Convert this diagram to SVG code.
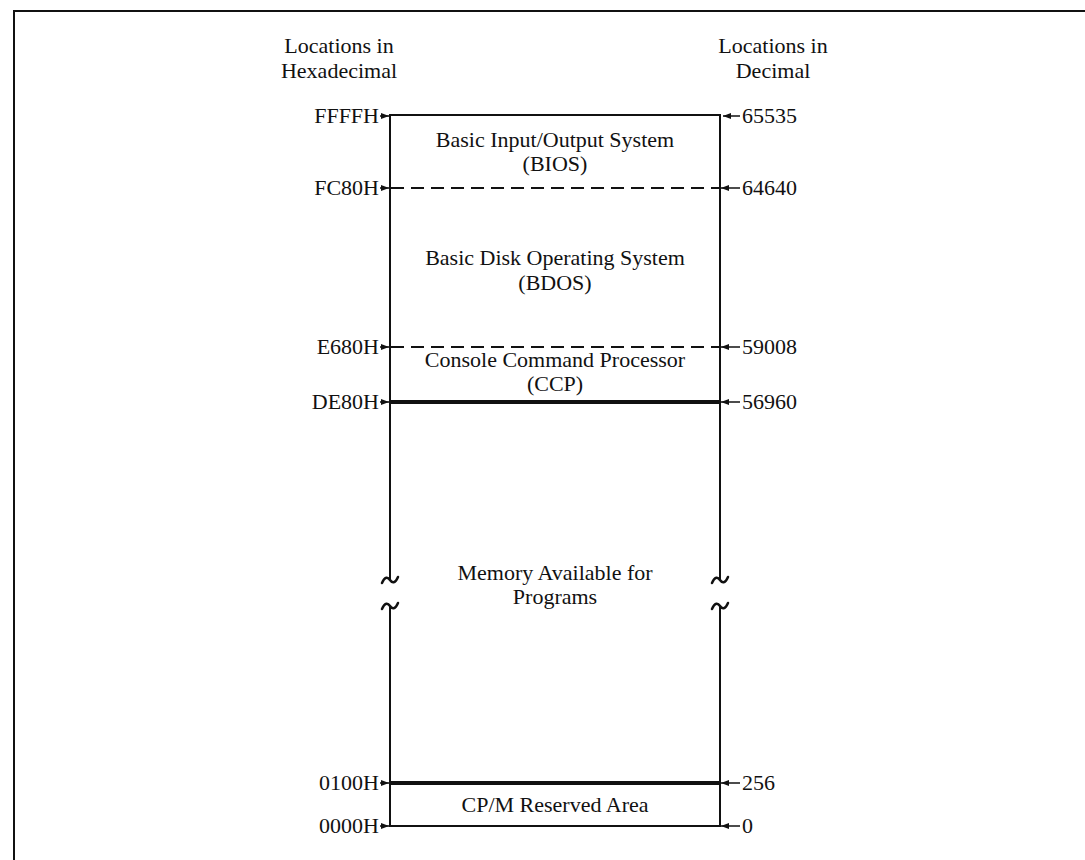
<svg xmlns="http://www.w3.org/2000/svg" width="1085" height="860" viewBox="0 0 1085 860">
<defs>
<style>
text{font-family:"Liberation Serif","Times New Roman",serif;font-size:22px;fill:#111}
.c{text-anchor:middle}
.e{text-anchor:end}
.s{text-anchor:start}
.ln{stroke:#111;stroke-width:2;fill:none}
.tl{stroke:#111;stroke-width:2.5;fill:none;stroke-linecap:round}
.dash{stroke:#111;stroke-width:2;stroke-dasharray:13 7;fill:none}
.thick{stroke:#111;stroke-width:4;fill:none}
.arr{stroke:#111;stroke-width:1.5;fill:none;marker-end:url(#ah)}
</style>
<marker id="ah" viewBox="0 0 8 6" refX="8" refY="3" markerWidth="8" markerHeight="6" markerUnits="userSpaceOnUse" orient="auto">
<path d="M0,0 L8,3 L0,6 Z" fill="#111"/>
</marker>
</defs>
<rect width="1085" height="860" fill="#fff"/>
<g id="frame">
<path class="ln" d="M14,860 V11 H1085"/>
</g>
<g id="headers">
<text class="c" x="339" y="53">Locations in</text>
<text class="c" x="339" y="78">Hexadecimal</text>
<text class="c" x="773" y="53">Locations in</text>
<text class="c" x="773" y="78">Decimal</text>
</g>
<g id="connectors">
<path class="ln" d="M390,580 V115 H720 V580"/>
<path class="ln" d="M390,606 V826 H720 V606"/>
<path class="tl" d="M382,583 C385,576 388,577 390,580 C392,583 395,584 398,577"/>
<path class="tl" d="M382,609 C385,602 388,603 390,606 C392,609 395,610 398,603"/>
<path class="tl" d="M712,583 C715,576 718,577 720,580 C722,583 725,584 728,577"/>
<path class="tl" d="M712,609 C715,602 718,603 720,606 C722,609 725,610 728,603"/>
<line class="dash" x1="391" y1="188" x2="719" y2="188"/>
<line class="dash" x1="391" y1="347" x2="719" y2="347"/>
<line class="thick" x1="390" y1="402" x2="720" y2="402"/>
<line class="thick" x1="390" y1="783" x2="720" y2="783"/>
<line class="arr" x1="380" y1="116" x2="389" y2="116"/>
<line class="arr" x1="380" y1="188" x2="389" y2="188"/>
<line class="arr" x1="380" y1="347" x2="389" y2="347"/>
<line class="arr" x1="380" y1="402" x2="389" y2="402"/>
<line class="arr" x1="380" y1="783" x2="389" y2="783"/>
<line class="arr" x1="380" y1="826" x2="389" y2="826"/>
<line class="arr" x1="740" y1="116" x2="723" y2="116"/>
<line class="arr" x1="740" y1="188" x2="721" y2="188"/>
<line class="arr" x1="740" y1="347" x2="721" y2="347"/>
<line class="arr" x1="740" y1="402" x2="721" y2="402"/>
<line class="arr" x1="740" y1="783" x2="721" y2="783"/>
<line class="arr" x1="740" y1="826" x2="721" y2="826"/>
</g>
<g id="hex-labels">
<text class="e" x="379" y="123">FFFFH</text>
<text class="e" x="379" y="195">FC80H</text>
<text class="e" x="379" y="354">E680H</text>
<text class="e" x="379" y="409">DE80H</text>
<text class="e" x="379" y="790">0100H</text>
<text class="e" x="379" y="833">0000H</text>
</g>
<g id="dec-labels">
<text class="s" x="742" y="123">65535</text>
<text class="s" x="742" y="195">64640</text>
<text class="s" x="742" y="354">59008</text>
<text class="s" x="742" y="409">56960</text>
<text class="s" x="742" y="790">256</text>
<text class="s" x="742" y="833">0</text>
</g>
<g id="bios">
<text class="c" x="555" y="147">Basic Input/Output System</text>
<text class="c" x="555" y="171">(BIOS)</text>
</g>
<g id="bdos">
<text class="c" x="555" y="265">Basic Disk Operating System</text>
<text class="c" x="555" y="290">(BDOS)</text>
</g>
<g id="ccp">
<text class="c" x="555" y="367">Console Command Processor</text>
<text class="c" x="555" y="391">(CCP)</text>
</g>
<g id="tpa">
<text class="c" x="555" y="580">Memory Available for</text>
<text class="c" x="555" y="604">Programs</text>
</g>
<g id="reserved">
<text class="c" x="555" y="812">CP/M Reserved Area</text>
</g>
</svg>
